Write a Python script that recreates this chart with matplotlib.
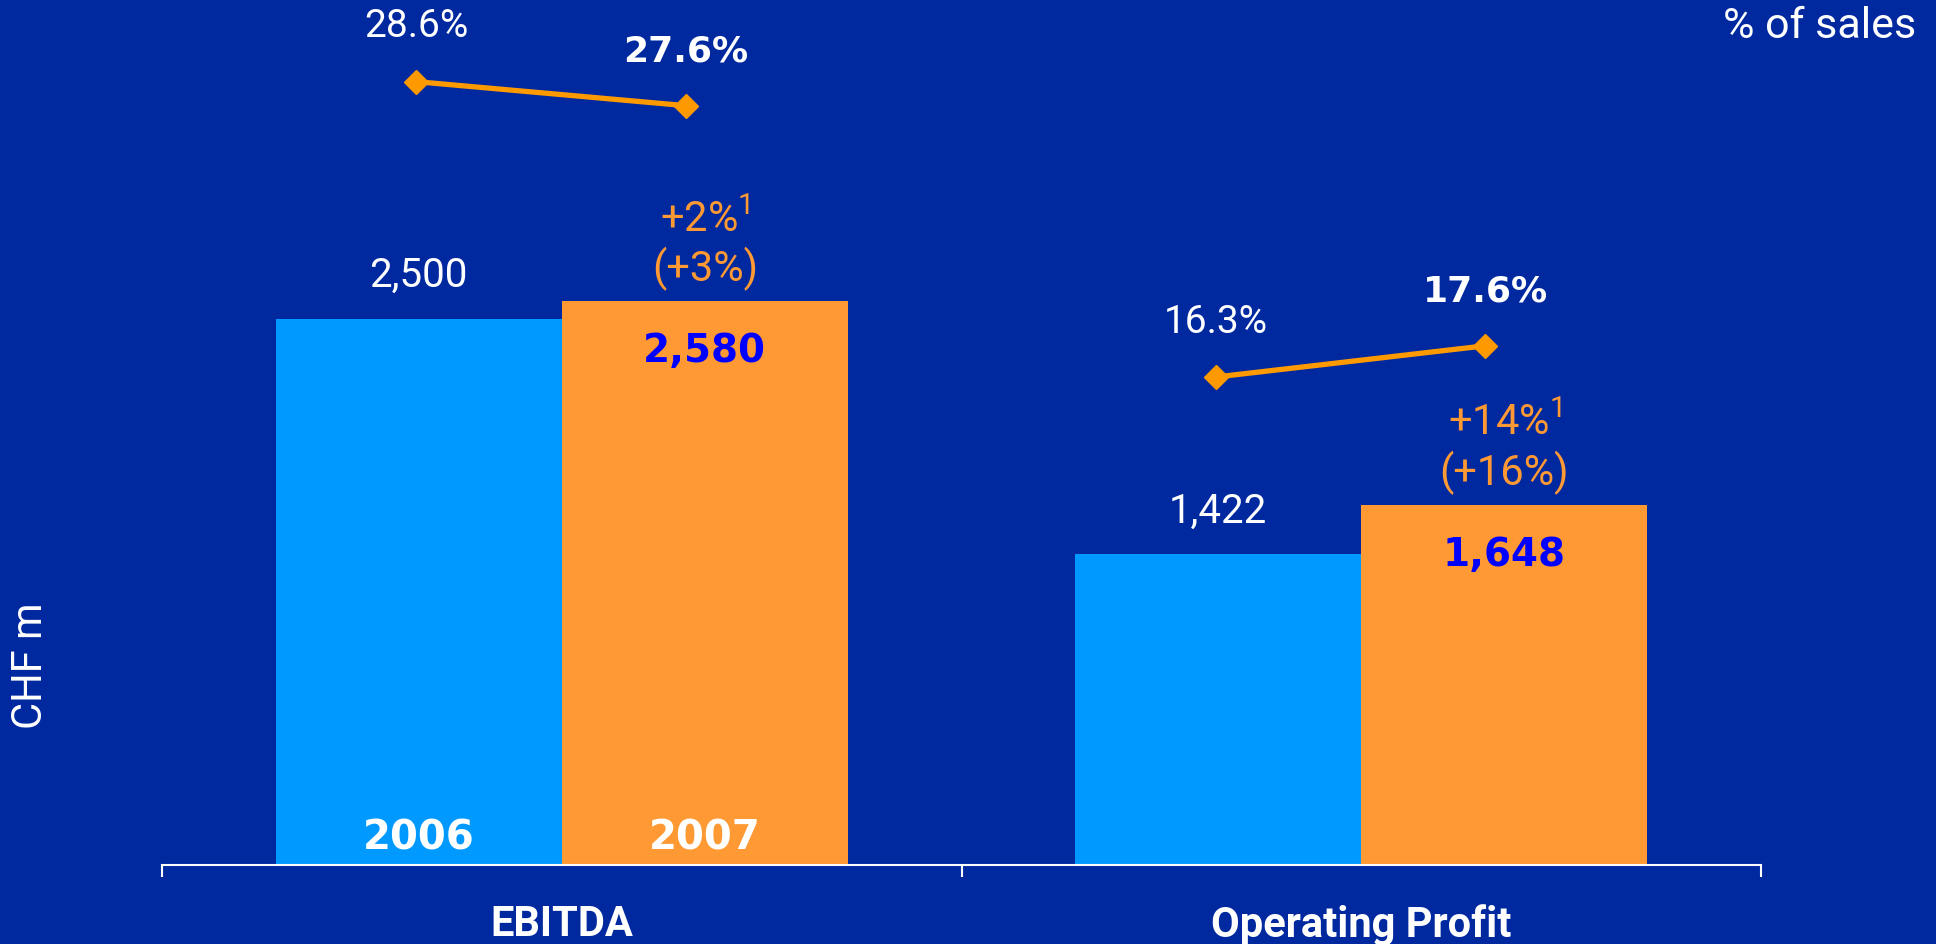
import matplotlib.pyplot as plt
import numpy as np

# --- data ---
categories = ["EBITDA", "Operating Profit"]
years = ["2006", "2007"]
values_2006 = [2500, 1422]
values_2007 = [2580, 1648]
margin_2006 = [28.6, 16.3]
margin_2007 = [27.6, 17.6]
growth = ["+2%", "+14%"]
growth_lc = ["(+3%)", "(+16%)"]

BG = "#0029A0"
LIGHT_BLUE = "#0099FF"
ORANGE = "#FF9933"
LINE_ORANGE = "#FF9900"
VALUE_BLUE = "#0000FF"

plt.rcParams["mathtext.fontset"] = "custom"
plt.rcParams["mathtext.rm"] = "Roboto"

fig = plt.figure(figsize=(19.36, 9.44), dpi=100, facecolor=BG)
ax = fig.add_axes([162 / 1936, 79 / 944, 1599 / 1936, 865 / 944])
ax.set_facecolor(BG)

x = np.arange(len(categories))
width = 0.358
off = 0.179

ax.bar(x - off, values_2006, width, color=LIGHT_BLUE, linewidth=0)
ax.bar(x + off, values_2007, width, color=ORANGE, linewidth=0)

ax.set_xlim(-0.5, 1.5)
ax.set_ylim(0, 3959)

# axis styling: only the baseline with three ticks
for s in ["top", "left", "right"]:
    ax.spines[s].set_visible(False)
ax.spines["bottom"].set_color("white")
ax.spines["bottom"].set_linewidth(1.5)
ax.set_yticks([])
ax.set_xticks([-0.5, 0.5, 1.5])
ax.set_xticklabels([])
ax.tick_params(axis="x", direction="out", length=8.6, width=1.5, color="white")

pt = 0.72  # px -> points at 100 dpi

for i in range(len(categories)):
    # value of 2006 above bar
    ax.annotate(f"{values_2006[i]:,}", (x[i] - off, values_2006[i]),
                xytext=(0, 43 * pt), textcoords="offset points",
                ha="center", va="center", color="white", fontsize=29,
                family="Roboto")
    # value of 2007 inside bar
    ax.annotate(f"{values_2007[i]:,}", (x[i] + off, values_2007[i]),
                xytext=(0, -50 * pt), textcoords="offset points",
                ha="center", va="center", color=VALUE_BLUE, fontsize=28,
                fontweight="bold", family="DejaVu Sans")
    # growth labels
    ax.annotate(growth[i] + r"$^{\mathrm{1}}$", (x[i] + off, values_2007[i]),
                xytext=(0, 81 * pt), textcoords="offset points",
                ha="center", va="center", color=ORANGE, fontsize=30,
                family="Roboto")
    ax.annotate(growth_lc[i], (x[i] + off, values_2007[i]),
                xytext=(0, 32 * pt), textcoords="offset points",
                ha="center", va="center", color=ORANGE, fontsize=30,
                family="Roboto")
    # year labels inside bars (first group only)
    if i == 0:
        for xx, yr in [(x[i] - off, years[0]), (x[i] + off, years[1])]:
            ax.annotate(yr, (xx, 0), xytext=(0, 26 * pt),
                        textcoords="offset points", ha="center", va="center",
                        color="white", fontsize=29, fontweight="bold",
                        family="DejaVu Sans")
    # category label under axis
    ax.annotate(categories[i], (x[i], 0), xycoords=("data", "axes fraction"),
                xytext=(0, -60 * pt), textcoords="offset points",
                ha="center", va="center", color="white", fontsize=30,
                fontweight="bold", family="Roboto")

# % of sales lines on a secondary scale
ax2 = ax.twinx()
ax2.set_ylim(-4.02, 32.0)
ax2.axis("off")
for i in range(len(categories)):
    xs = [x[i] - 0.182, x[i] + 0.155]
    ys = [margin_2006[i], margin_2007[i]]
    ax2.plot(xs, ys, color=LINE_ORANGE, lw=3.8, marker="D", markersize=12,
             solid_capstyle="butt")
    ax2.annotate(f"{margin_2006[i]}%", (xs[0], ys[0]), xytext=(0, 55 * pt),
                 textcoords="offset points", ha="center", va="center",
                 color="white", fontsize=28, family="Roboto")
    ax2.annotate(f"{margin_2007[i]}%", (xs[1], ys[1]), xytext=(0, 54 * pt),
                 textcoords="offset points", ha="center", va="center",
                 color="white", fontsize=26, fontweight="bold",
                 family="DejaVu Sans")

fig.text(1916 / 1936, 1 - 27 / 944, "% of sales", ha="right", va="center",
         color="white", fontsize=31, family="Roboto")
fig.text(31 / 1936, 1 - 666 / 944, "CHF m", ha="center", va="center",
         rotation=90, color="white", fontsize=30, family="Roboto")

fig.savefig("out.png", dpi=100, facecolor=BG)
